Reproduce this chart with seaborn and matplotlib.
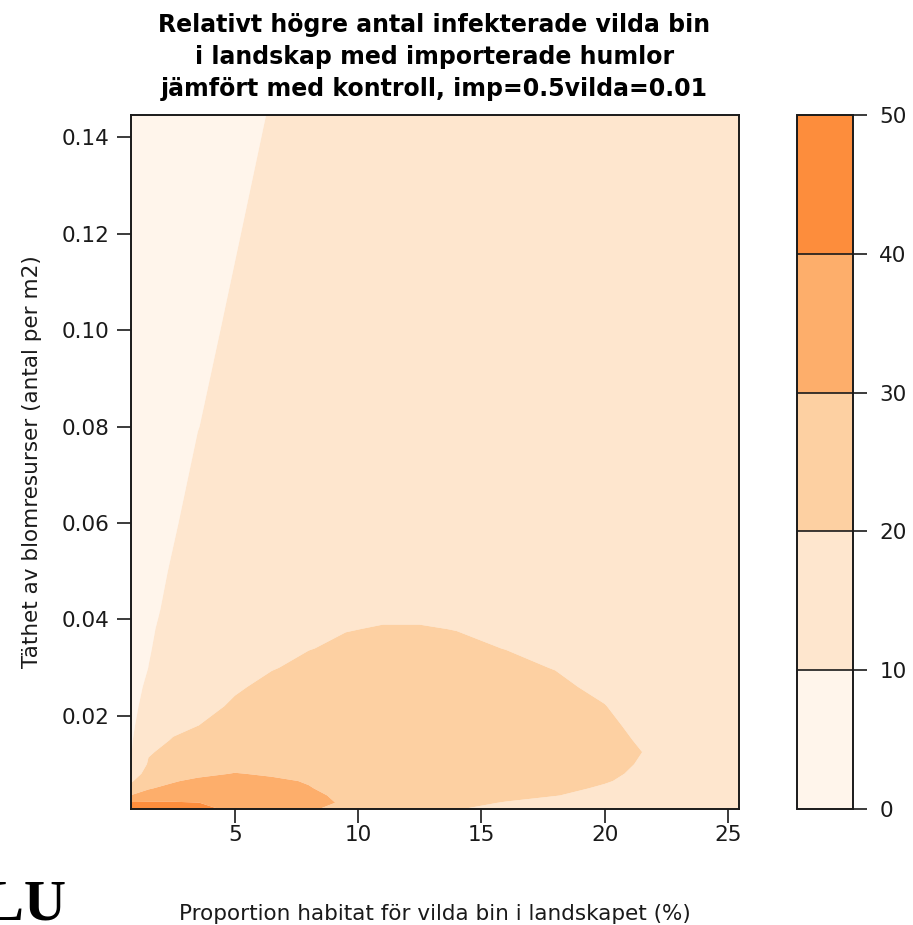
import numpy as np
import pandas as pd
import matplotlib
matplotlib.use("Agg")
import matplotlib.pyplot as plt
import seaborn as sns

# Proportion habitat for wild bees (%) along x, flower density (per m2) along y
habitat = [0.77, 1.5, 2.5, 3.5, 5, 6.5, 8, 9.5, 11, 12.5, 14, 16, 18, 20, 22, 25.43]
density = [0.0007, 0.002, 0.0035, 0.005, 0.0065, 0.008, 0.01, 0.0125, 0.015,
           0.018, 0.022, 0.026, 0.03, 0.034, 0.038, 0.042, 0.05, 0.06, 0.08,
           0.1, 0.12, 0.1446]

# Relative increase of infected wild bees, one list per density level
rel_d0007 = [46, 45, 44, 42, 38.5, 35, 31, 27.5, 24.5, 22, 20.3, 18, 16, 14.5, 13.5, 12.5]
rel_d0020 = [41, 41.2, 41, 40.1, 38, 35.5, 32.5, 29, 26.5, 24, 22, 19.6, 17.5, 15.5, 14.5, 13]
rel_d0035 = [30.2, 32, 34, 35, 35.5, 34, 31.5, 28.5, 26.5, 25, 23.5, 22, 20.2, 18, 16, 14]
rel_d0050 = [22, 29.6, 31.5, 33, 33.5, 32.5, 30.3, 28, 26.5, 25.5, 24.5, 23, 21.3, 19.4, 17, 14.5]
rel_d0065 = [19, 25, 29.5, 31.3, 32, 31, 29.6, 27.5, 26.5, 25.5, 24.5, 23.3, 22, 20.4, 18, 15]
rel_d0080 = [14, 24, 26.5, 28.5, 30.3, 29.3, 28, 27, 26.3, 25.5, 24.6, 23.5, 22.3, 21, 18.5, 15.5]
rel_d0100 = [9.8, 21, 24.5, 26.5, 27.5, 27.5, 27, 26.5, 26, 25.3, 24.6, 23.6, 22.6, 21.5, 19, 16]
rel_d0125 = [9.3, 19.2, 22.5, 24.5, 26, 26.3, 26.3, 26, 25.6, 25, 24.4, 23.5, 22.6, 21.6, 19.5, 16]
rel_d0150 = [9, 17, 20.5, 23, 24.8, 25.3, 25.5, 25.3, 25, 24.6, 24, 23.2, 22.3, 21.3, 19, 16]
rel_d0180 = [8.5, 14.5, 18.3, 19.95, 22.3, 23.5, 24, 24.2, 24.1, 23.8, 23.3, 22.6, 21.8, 20.8, 18.5, 15.5]
rel_d0220 = [8, 12.5, 16.5, 18.5, 20.6, 22, 22.8, 23.2, 23.2, 23, 22.6, 21.9, 21, 20.1, 18, 15]
rel_d0260 = [7.5, 11.2, 15, 17.2, 19.5, 21, 21.9, 22.3, 22.4, 22.2, 21.8, 21.1, 20.6, 19.3, 17.5, 14.8]
rel_d0300 = [7, 10.05, 13.5, 16, 18.4, 19.8, 20.8, 21.3, 21.5, 21.4, 21.1, 20.6, 19.9, 18.8, 17.2, 14.6]
rel_d0340 = [6.5, 9.6, 12.5, 15, 17.5, 18.9, 19.9, 20.5, 20.8, 20.7, 20.45, 19.95, 19.3, 18.3, 16.9, 14.4]
rel_d0380 = [6.2, 9.3, 11.8, 14.3, 16.8, 18.2, 19.2, 19.9, 20.15, 20.15, 19.95, 19.4, 18.8, 17.9, 16.6, 14.2]
rel_d0420 = [6, 8.9, 11.2, 13.8, 16.2, 17.6, 18.6, 19.2, 19.5, 19.5, 19.4, 19, 18.4, 17.6, 16.4, 14]
rel_d0500 = [5.5, 8.2, 10.5, 12.8, 15, 16.3, 17.2, 17.8, 18.1, 18.2, 18.1, 17.8, 17.3, 16.7, 15.8, 13.8]
rel_d0600 = [5, 7.4, 9.5, 11.8, 14, 15.2, 16, 16.6, 16.9, 17, 17, 16.8, 16.5, 16, 15.3, 13.6]
rel_d0800 = [4.5, 6.3, 8.2, 9.9, 12, 13.6, 14.6, 15.2, 15.5, 15.7, 15.7, 15.6, 15.4, 15, 14.5, 13.2]
rel_d1000 = [4, 5.6, 7.3, 8.9, 10.7, 12.3, 13.4, 14, 14.4, 14.6, 14.7, 14.7, 14.5, 14.2, 13.8, 12.8]
rel_d1200 = [3.7, 5.2, 6.7, 8.1, 9.7, 11.5, 12.5, 13.2, 13.6, 13.9, 14, 14, 13.9, 13.7, 13.3, 12.5]
rel_d1446 = [3.4, 4.7, 6.2, 7.4, 8.9, 10.2, 11.5, 12.3, 12.9, 13.2, 13.4, 13.5, 13.4, 13.2, 12.9, 12.2]

levels = [0, 10, 20, 30, 40, 50]
band_colors = ["#FFF5EB", "#FEE6CE", "#FDD0A2", "#FDAE6B", "#FD8D3C"]
x_ticks = [5, 10, 15, 20, 25]
y_ticks = [0.02, 0.04, 0.06, 0.08, 0.10, 0.12, 0.14]

title = ("Relativt högre antal infekterade vilda bin\n"
         "i landskap med importerade humlor\n"
         "jämfört med kontroll, imp=0.5vilda=0.01")
x_label = "Proportion habitat för vilda bin i landskapet (%)"
y_label = "Täthet av blomresurser (antal per m2)"

rows = [rel_d0007, rel_d0020, rel_d0035, rel_d0050, rel_d0065, rel_d0080,
        rel_d0100, rel_d0125, rel_d0150, rel_d0180, rel_d0220, rel_d0260,
        rel_d0300, rel_d0340, rel_d0380, rel_d0420, rel_d0500, rel_d0600,
        rel_d0800, rel_d1000, rel_d1200, rel_d1446]
field = pd.DataFrame(rows, index=density, columns=habitat)

sns.set_theme(style="ticks")
palette = sns.color_palette(band_colors)
plt.rcParams["font.family"] = ["DejaVu Sans"]

ink = "#1a1a1a"
W, H = 913, 925
fig = plt.figure(figsize=(W / 100, H / 100), dpi=100)
fig.patch.set_facecolor("white")

ax_l, ax_r, ax_t, ax_b = 130.5, 738.5, 115, 809
ax = fig.add_axes([ax_l / W, 1 - ax_b / H, (ax_r - ax_l) / W, (ax_b - ax_t) / H])
cax = fig.add_axes([797 / W, 1 - ax_b / H, 56 / W, (ax_b - ax_t) / H])

cs = ax.contourf(field.columns.values, field.index.values, field.values,
                 levels=levels, colors=palette, antialiased=True)

ax.set_xlim(habitat[0], habitat[-1])
ax.set_ylim(density[0], density[-1])
ax.set_xticks(x_ticks)
ax.set_xticklabels([str(v) for v in x_ticks])
ax.set_yticks(y_ticks)
ax.set_yticklabels([f"{v:.2f}" for v in y_ticks])
ax.tick_params(axis="both", length=10, width=1.2, color=ink,
               labelsize=15.5, labelcolor=ink)
ax.tick_params(axis="x", pad=1.5)
ax.tick_params(axis="y", pad=5)
for s in ax.spines.values():
    s.set_linewidth(1.4)
    s.set_edgecolor(ink)
    s.set_visible(True)

ax.set_xlabel(x_label, fontsize=15.5, va="baseline", color=ink)
ax.xaxis.set_label_coords(0.5, -(920 - ax_b) / (ax_b - ax_t))
ax.set_ylabel(y_label, fontsize=15.5, va="center", color=ink)
ax.yaxis.set_label_coords((32 - ax_l) / (ax_r - ax_l), 0.5)

cb = fig.colorbar(cs, cax=cax, drawedges=True)
cb.set_ticks(levels)
cb.set_ticklabels([str(v) for v in levels])
cb.outline.set_linewidth(1.4)
cb.outline.set_edgecolor(ink)
cb.dividers.set_color(ink)
cb.dividers.set_linewidth(1.2)
cax.tick_params(axis="y", right=True, left=False, length=10, width=1.2,
                color=ink, labelsize=15.5, labelcolor=ink, pad=9)

fig.text((ax_l + ax_r) / 2 / W, 1 - 57 / H, title, ha="center", va="center",
         fontsize=17, fontweight="bold", linespacing=1.4, color="black")

fig.text(-15 / W, 1 - 920 / H, "LU", ha="left", va="baseline",
         fontsize=42, fontweight="bold", family=["Liberation Serif"], color="black")

fig.savefig("out.png", dpi=100, facecolor="white")
